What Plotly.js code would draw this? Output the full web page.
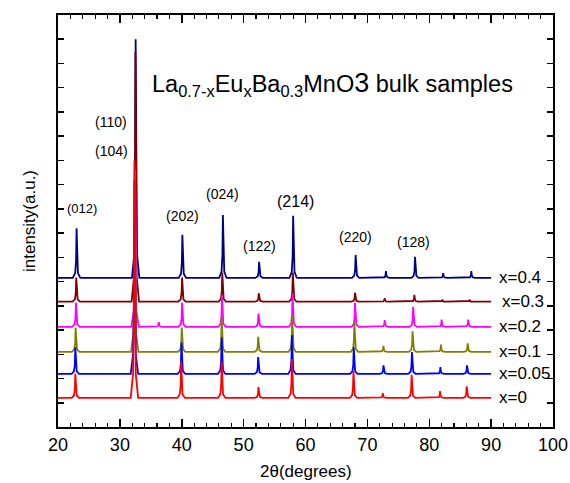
<!DOCTYPE html>
<html>
<head>
<meta charset="utf-8">
<script src="https://cdn.plot.ly/plotly-3.0.1.min.js"></script>
<style>html,body{margin:0;padding:0;background:#fff;}#chart{width:570px;height:483px;}</style>
</head>
<body>
<div id="chart"></div>
<script>
// ---- data ----
const seriesNames = ['x=0', 'x=0.05', 'x=0.1', 'x=0.2', 'x=0.3', 'x=0.4'];
const seriesColors = ['#FF0000', '#0000FF', '#808000', '#FF00FF', '#800000', '#000080'];
const baselineOffsets = [1.2, 2.19, 3.1, 4.13, 5.17, 6.15];
const scanStart = 20;
const scanEnd = 90;

const peakPos_x0   = [22.8, 32.35, 39.9, 46.45, 52.4, 57.8, 67.75, 72.5, 77.15, 81.75, 86.05];
const peakHt_x0    = [1.0, 9.8, 1.5, 1.5, 0.45, 1.6, 1.1, 0.2, 0.95, 0.28, 0.48];
const peakPos_x005 = [22.8, 32.35, 39.95, 46.45, 52.35, 57.8, 67.8, 72.6, 77.2, 81.8, 86.1];
const peakHt_x005  = [1.1, 8.0, 1.3, 1.5, 0.7, 1.6, 1.1, 0.35, 0.9, 0.28, 0.35];
const peakPos_x01  = [22.85, 32.4, 40.0, 46.45, 52.35, 57.85, 67.9, 72.6, 77.3, 81.9, 86.2];
const peakHt_x01   = [1.0, 7.5, 1.0, 1.4, 0.62, 1.5, 1.25, 0.25, 0.85, 0.3, 0.35];
const peakPos_x02  = [22.9, 32.45, 36.3, 40.05, 46.5, 52.4, 57.9, 68.0, 72.8, 77.4, 82.0, 86.3];
const peakHt_x02   = [1.0, 6.5, 0.2, 1.0, 1.3, 0.55, 1.4, 1.0, 0.28, 0.83, 0.3, 0.3];
const peakPos_x03  = [22.95, 32.5, 40.05, 46.55, 52.45, 57.95, 68.0, 72.8, 77.6, 82.1, 86.5];
const peakHt_x03   = [1.0, 10.3, 1.0, 1.2, 0.35, 1.2, 0.37, 0.15, 0.28, 0.08, 0.08];
const peakPos_x04  = [23.0, 32.55, 40.1, 46.65, 52.5, 58.0, 68.1, 73.0, 77.7, 82.25, 86.8];
const peakHt_x04   = [2.05, 9.85, 1.78, 2.6, 0.67, 2.57, 0.95, 0.28, 0.87, 0.2, 0.28];

const peakPositions = [peakPos_x0, peakPos_x005, peakPos_x01, peakPos_x02, peakPos_x03, peakPos_x04];
const peakHeights   = [peakHt_x0, peakHt_x005, peakHt_x01, peakHt_x02, peakHt_x03, peakHt_x04];

const reflectionLabels = ['(012)', '(110)', '(104)', '(202)', '(024)', '(214)', '(122)', '(220)', '(128)'];
const xTickVals = [20, 30, 40, 50, 60, 70, 80, 90, 100];
const xTitle = '2θ(degrees)';
const yTitle = 'intensity(a.u.)';

// ---- drawing ----
// peak profile (display shape of each reflection)
const profDx = [-0.6, -0.22, -0.08, 0, 0.08, 0.22, 0.6];
const profRel = [0, 0.1, 0.35, 1, 0.35, 0.1, 0];

function buildTrace(i) {
  const xs = [scanStart], ys = [baselineOffsets[i]];
  const pos = peakPositions[i], ht = peakHeights[i];
  for (let k = 0; k < pos.length; k++) {
    for (let j = 0; j < profDx.length; j++) {
      xs.push(pos[k] + profDx[j]);
      ys.push(baselineOffsets[i] + ht[k] * profRel[j]);
    }
  }
  xs.push(scanEnd); ys.push(baselineOffsets[i]);
  return {
    x: xs, y: ys, type: 'scatter', mode: 'lines',
    line: {color: seriesColors[i], width: 1.8},
    name: seriesNames[i], showlegend: false, hoverinfo: 'skip'
  };
}

const order = [5, 4, 3, 2, 1, 0];
const traces = order.map(buildTrace);

const font = 'Arial, "Liberation Sans", sans-serif';
const annotations = [];
// right-hand series labels
const labelX = [90.9, 90.9, 90.9, 90.9, 91.4, 90.9];
for (let i = 0; i < seriesNames.length; i++) {
  annotations.push({
    x: labelX[i], y: baselineOffsets[i], xref: 'x', yref: 'y',
    text: seriesNames[i], showarrow: false, xanchor: 'left', yanchor: 'middle',
    font: {family: font, size: 17, color: '#000'}
  });
}
// reflection labels
const reflX = [23.9, 28.6, 28.7, 40.2, 46.6, 58.4, 52.6, 68.1, 77.4];
const reflY = [9.0, 12.6, 11.4, 8.7, 9.6, 9.3, 7.45, 7.85, 7.65];
const reflSize = [13, 14, 14, 14, 14, 16, 14, 14, 14];
for (let i = 0; i < reflectionLabels.length; i++) {
  annotations.push({
    x: reflX[i], y: reflY[i], xref: 'x', yref: 'y',
    text: reflectionLabels[i], showarrow: false, xanchor: 'center', yanchor: 'middle',
    font: {family: font, size: reflSize[i], color: '#000'}
  });
}
// sample title
annotations.push({
  x: 34.8, y: 14.15, xref: 'x', yref: 'y', xanchor: 'left', yanchor: 'middle', showarrow: false,
  text: 'La<sub>0.7-x</sub>Eu<sub>x</sub>Ba<sub>0.3</sub>MnO<span style="font-size:27px">3</span> bulk samples',
  font: {family: font, size: 23.5, color: '#000'}
});
// x axis title
annotations.push({
  x: 0.5, y: -0.108, xref: 'paper', yref: 'paper', xanchor: 'center', yanchor: 'middle', showarrow: false,
  text: xTitle, font: {family: font, size: 17, color: '#000'}
});

const layout = {
  width: 570, height: 483,
  margin: {l: 58, r: 17, t: 15, b: 56},
  paper_bgcolor: '#fff', plot_bgcolor: '#fff',
  showlegend: false,
  xaxis: {
    range: [20, 100], tickvals: xTickVals, ticktext: xTickVals.map(String),
    ticks: 'inside', ticklen: 8, tickwidth: 1.5, tickcolor: '#000',
    minor: {dtick: 2, ticks: 'inside', ticklen: 4, tickwidth: 1.2, tickcolor: '#000'},
    showline: true, linecolor: '#000', linewidth: 2, mirror: 'ticks',
    showgrid: false, zeroline: false,
    tickfont: {family: font, size: 18, color: '#000'}
  },
  yaxis: {
    range: [0, 17], dtick: 1, showticklabels: false,
    ticks: 'inside', ticklen: 6, tickwidth: 1.5, tickcolor: '#000',
    showline: true, linecolor: '#000', linewidth: 2, mirror: 'ticks',
    showgrid: false, zeroline: false,
    title: {text: yTitle, font: {family: font, size: 17, color: '#000'}, standoff: 16}
  },
  annotations: annotations
};

Plotly.newPlot('chart', traces, layout, {staticPlot: true, displayModeBar: false});
</script>
</body>
</html>
